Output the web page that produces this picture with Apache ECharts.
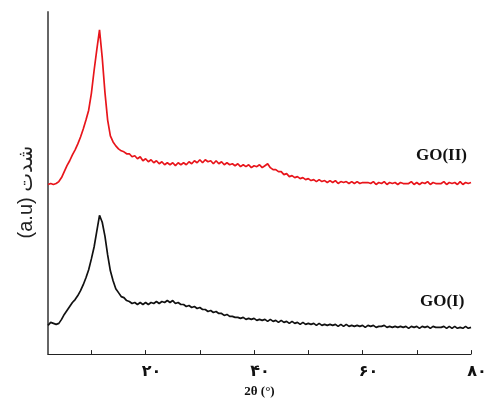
<!DOCTYPE html>
<html>
<head>
<meta charset="utf-8">
<script src="https://cdn.jsdelivr.net/npm/echarts@6/dist/echarts.min.js"></script>
<style>
html,body{margin:0;padding:0;background:#fff;}
#chart{width:496px;height:403px;}
</style>
</head>
<body>
<div id="chart"></div>
<script>
// 2θ from 2° to 80° in 0.5° steps
var thetaStart = 2, thetaStep = 0.5;
var goII = [
  171,172,171,172,174,178,184,190,195,201,
  206,212,219,227,236,246,263,286,307,327,
  299,264,236,220,214,210,207,205,204,202,
  202,199,200,197,199,195,197,194,196,193,
  195,192,194,191,193,191,193,190,193,191,
  193,191,194,192,195,193,196,193,196,194,
  195,192,195,192,194,191,193,191,192,190,
  192,189,191,189,191,188,190,189,191,188,
  190,192,188,186,186,184,184,181,182,179,
  180,178,179,177,178,176,177,175,176,174,
  176,174,175,173,175,173,175,172,174,173,
  174,172,174,172,174,172,173,173,173,172,
  174,171,173,172,174,171,173,172,173,171,
  173,172,172,172,174,171,173,171,173,172,
  174,171,173,172,172,172,174,171,173,172,
  173,171,174,171,173,172,173
];
var goI = [
  29,32,31,30,31,35,40,44,48,52,
  55,59,64,70,77,85,96,108,124,140,
  133,119,100,84,74,66,62,58,57,54,
  53,51,52,50,52,50,52,50,52,51,
  53,51,53,52,54,52,54,51,52,50,
  50,48,49,47,48,46,47,45,45,43,
  44,42,43,41,41,39,40,38,38,37,
  37,36,37,35,36,35,36,34,35,34,
  35,33,35,33,34,32,34,32,33,31,
  33,31,32,30,32,30,31,30,31,29,
  31,29,30,29,30,29,30,28,30,28,
  30,28,29,28,29,28,29,27,29,28,
  29,27,28,28,29,27,28,27,28,27,
  28,27,28,26,28,27,28,26,28,27,
  28,26,28,27,27,27,28,26,28,26,
  28,26,27,26,28,26,27
];
var tickValues = [10,20,30,40,50,60,70,80];
var labelValues = [20,40,60,80];
var labelTexts = {20:'۲۰',40:'۴۰',60:'۶۰',80:'۸۰'};
var seriesNames = ['GO(I)','GO(II)'];
var xName = '2θ (°)';
var yName = '(a.u) شدت';

function toPairs(arr){
  var out = [];
  for (var i=0;i<arr.length;i++) out.push([thetaStart + i*thetaStep, arr[i]]);
  return out;
}

var chart = echarts.init(document.getElementById('chart'), null, {renderer:'canvas'});
chart.setOption({
  animation:false,
  backgroundColor:'#fff',
  grid:{left:48,right:25,top:12,bottom:46},
  xAxis:{
    type:'value', min:2, max:80,
    name:xName, nameLocation:'middle', nameGap:30,
    nameTextStyle:{fontFamily:'Liberation Serif', fontWeight:'bold', fontSize:13, color:'#111'},
    axisLine:{show:true, lineStyle:{color:'#222', width:1}},
    axisTick:{show:true, inside:true, length:4, customValues:tickValues, lineStyle:{color:'#222'}},
    axisLabel:{show:true, customValues:labelValues, margin:10, fontSize:16, fontWeight:'bold', color:'#111',
      fontFamily:'DejaVu Sans', padding:[0,0,0,12],
      formatter:function(v){return labelTexts[v] || '';}},
    splitLine:{show:false}
  },
  yAxis:{
    type:'value', min:0, max:345,
    name:yName, nameLocation:'middle', nameGap:12, nameRotate:90,
    nameTextStyle:{fontFamily:'Liberation Sans, DejaVu Sans', fontSize:20, color:'#222', padding:[0,18,0,0]},
    axisLine:{show:true, lineStyle:{color:'#666', width:2}},
    axisTick:{show:false}, axisLabel:{show:false}, splitLine:{show:false}
  },
  series:[
    {name:seriesNames[0], type:'line', data:toPairs(goI), showSymbol:false, symbol:'none',
     lineStyle:{color:'#111', width:1.7}},
    {name:seriesNames[1], type:'line', data:toPairs(goII), showSymbol:false, symbol:'none',
     lineStyle:{color:'#e8151b', width:1.7}}
  ],
  graphic:[
    {type:'text', left:416, top:147, style:{text:seriesNames[1], font:'bold 17px "Liberation Serif"', fill:'#111'}},
    {type:'text', left:420, top:293, style:{text:seriesNames[0], font:'bold 17px "Liberation Serif"', fill:'#111'}}
  ]
});
</script>
</body>
</html>
